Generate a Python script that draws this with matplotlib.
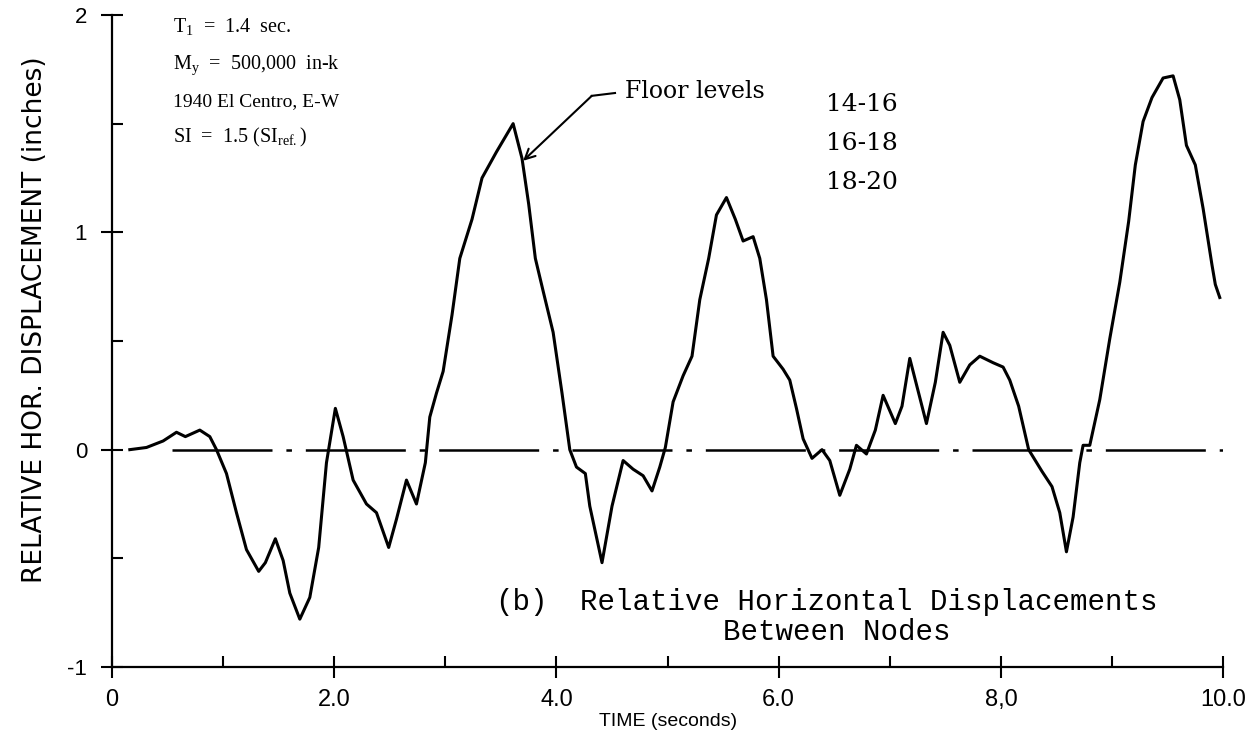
import matplotlib
matplotlib.use("Agg")
import matplotlib.pyplot as plt
from matplotlib.ticker import FixedLocator, FixedFormatter, NullFormatter

time_s = [0.16, 0.31, 0.46, 0.58, 0.66, 0.79, 0.88, 0.94, 1.03, 1.12,
          1.21, 1.32, 1.38, 1.47, 1.54, 1.60, 1.69, 1.78, 1.86, 1.93,
          2.01, 2.08, 2.17, 2.29, 2.38, 2.49, 2.56, 2.65, 2.74, 2.82,
          2.86, 2.92, 2.98, 3.06, 3.13, 3.24, 3.33, 3.46, 3.61, 3.69,
          3.75, 3.81, 3.88, 3.97, 4.05, 4.12, 4.18, 4.26, 4.30, 4.41,
          4.50, 4.60, 4.69, 4.78, 4.86, 4.93, 4.98, 5.05, 5.14, 5.22,
          5.29, 5.37, 5.44, 5.53, 5.61, 5.68, 5.77, 5.83, 5.89, 5.95,
          6.04, 6.10, 6.16, 6.22, 6.30, 6.39, 6.46, 6.55, 6.64, 6.70,
          6.79, 6.87, 6.94, 7.05, 7.11, 7.18, 7.26, 7.33, 7.41, 7.48,
          7.54, 7.63, 7.72, 7.81, 7.93, 8.02, 8.08, 8.16, 8.25, 8.37,
          8.46, 8.53, 8.59, 8.65, 8.71, 8.74, 8.80, 8.89, 8.98, 9.07,
          9.15, 9.21, 9.28, 9.36, 9.46, 9.55, 9.61, 9.67, 9.75, 9.82,
          9.90, 9.93, 9.97]
disp_in = [0.00, 0.01, 0.04, 0.08, 0.06, 0.09, 0.06, 0.00, -0.11, -0.29,
           -0.46, -0.56, -0.52, -0.41, -0.51, -0.66, -0.78, -0.68, -0.45, -0.06,
           0.19, 0.06, -0.14, -0.25, -0.29, -0.45, -0.32, -0.14, -0.25, -0.06,
           0.15, 0.26, 0.36, 0.62, 0.88, 1.06, 1.25, 1.37, 1.50, 1.34,
           1.13, 0.88, 0.73, 0.54, 0.26, 0.00, -0.08, -0.11, -0.26, -0.52,
           -0.26, -0.05, -0.09, -0.12, -0.19, -0.08, 0.01, 0.22, 0.34, 0.43,
           0.69, 0.88, 1.08, 1.16, 1.06, 0.96, 0.98, 0.88, 0.69, 0.43,
           0.37, 0.32, 0.19, 0.05, -0.04, 0.00, -0.05, -0.21, -0.09, 0.02,
           -0.02, 0.09, 0.25, 0.12, 0.20, 0.42, 0.26, 0.12, 0.31, 0.54,
           0.48, 0.31, 0.39, 0.43, 0.40, 0.38, 0.32, 0.20, 0.00, -0.10,
           -0.17, -0.29, -0.47, -0.31, -0.06, 0.02, 0.02, 0.23, 0.51, 0.77,
           1.05, 1.31, 1.51, 1.62, 1.71, 1.72, 1.61, 1.40, 1.31, 1.11,
           0.85, 0.76, 0.70]

# zero reference line (dash-dot)
zero_x = [0.54, 10.0]
zero_y = [0.0, 0.0]

x_major = [0, 2, 4, 6, 8, 10]
x_labels = ["0", "2.0", "4.0", "6.0", "8,0", "10.0"]
x_minor = [1, 3, 5, 7, 9]
y_major = [-1, 0, 1, 2]
y_labels = ["-1", "0", "1", "2"]
y_minor = [-0.5, 0.5, 1.5]

floor_levels = ["14-16", "16-18", "18-20"]

plt.rcParams["font.family"] = "Liberation Sans"
plt.rcParams["lines.scale_dashes"] = False

fig = plt.figure(figsize=(12.56, 7.42), dpi=100)
ax = fig.add_axes([0.0892, 0.1011, 0.8846, 0.8787])

ax.plot(zero_x, zero_y, color="black", lw=1.8, dashes=[72, 10, 4, 10])
ax.plot(time_s, disp_in, color="black", lw=2.2, solid_joinstyle="round")

ax.set_xlim(0, 10)
ax.set_ylim(-1, 2)
ax.spines["top"].set_visible(False)
ax.spines["right"].set_visible(False)
ax.spines["left"].set_linewidth(1.6)
ax.spines["bottom"].set_linewidth(1.6)

ax.xaxis.set_major_locator(FixedLocator(x_major))
ax.xaxis.set_major_formatter(FixedFormatter(x_labels))
ax.xaxis.set_minor_locator(FixedLocator(x_minor))
ax.xaxis.set_minor_formatter(NullFormatter())
ax.yaxis.set_major_locator(FixedLocator(y_major))
ax.yaxis.set_major_formatter(FixedFormatter(y_labels))
ax.yaxis.set_minor_locator(FixedLocator(y_minor))
ax.yaxis.set_minor_formatter(NullFormatter())

ax.tick_params(which="major", direction="inout", length=16, width=1.5)
ax.tick_params(which="minor", direction="in", length=8, width=1.5)
ax.tick_params(axis="x", which="major", labelsize=17, pad=8)
ax.tick_params(axis="y", which="major", labelsize=16, pad=10)

ax.set_xlabel("TIME (seconds)", fontsize=14)
ax.xaxis.set_label_coords(0.5, -0.0706)
ax.set_ylabel("RELATIVE HOR. DISPLACEMENT (inches)", family="DejaVu Sans", fontsize=19)
ax.yaxis.set_label_coords(-0.058, 0.532)

# run parameters
serif = "Liberation Serif"
ax.text(0.55, 1.917, r"T$_\mathregular{1}$  =  1.4  sec.", family=serif, fontsize=14.5)
ax.text(0.55, 1.751, r"M$_\mathregular{y}$  =  500,000  in-k", family=serif, fontsize=14.5)
ax.text(0.55, 1.581, "1940 El Centro, E-W", family=serif, fontsize=14)
ax.text(0.55, 1.415, r"SI  =  1.5 (SI$_\mathregular{ref.}$)", family=serif, fontsize=14.5)

# floor level label with arrow
ax.text(4.62, 1.618, "Floor levels", family="DejaVu Serif", fontsize=17)
for i, lvl in enumerate(floor_levels):
    ax.text(6.43, 1.558 - i * 0.18, lvl, family="DejaVu Serif", fontsize=18)
ax.plot([4.527, 4.318], [1.641, 1.628], color="black", lw=1.5)
ax.annotate("", xy=(3.70, 1.329), xytext=(4.318, 1.628),
            arrowprops=dict(arrowstyle="->", color="black", lw=1.5,
                            mutation_scale=18, shrinkA=0, shrinkB=0))

# caption
mono = "Liberation Mono"
ax.text(3.447, -0.737, "(b)", family=mono, fontsize=21)
ax.text(4.21, -0.737, "Relative Horizontal Displacements", family=mono, fontsize=21)
ax.text(5.50, -0.876, "Between Nodes", family=mono, fontsize=21)

fig.savefig("out.png", dpi=100)
